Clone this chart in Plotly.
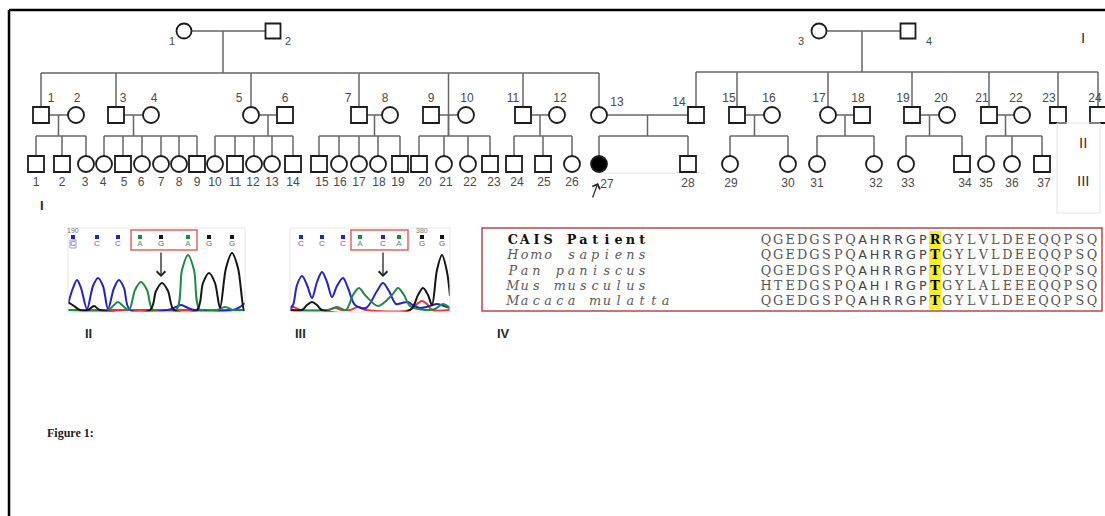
import plotly.graph_objects as go

W, H = 1105, 516

# ======================= Pedigree data =======================
GEN_Y = {1: 31, 2: 115, 3: 164}
SYMBOL_SIZE = {1: 15, 2: 16, 3: 16}
SIB3_Y = 136

gen1_ids = ["1", "2", "3", "4"]
gen1_sex = ["F", "M", "F", "M"]
gen1_x = [184, 273, 819, 908]
gen1_lab_x = [172, 288, 801, 929]
gen1_lab_y = [42, 42, 42, 42]

gen2_ids = [str(i) for i in range(1, 25)]
gen2_sex = list("MFMFFMMFMFMFFMMFFMMFMFMM")
gen2_x = [41, 76, 116, 151, 251, 285, 359, 390, 431, 466, 523, 557, 599, 696,
          737, 772, 828, 862, 912, 947, 989, 1022, 1058, 1098]
gen2_lab_x = [51, 77, 123, 154, 239, 285, 348, 385, 431, 467, 513, 560, 617, 679,
              729, 769, 819, 858, 903, 941, 982, 1016, 1049, 1095]
gen2_lab_y = [99] * 12 + [103, 103] + [99] * 10

gen3_ids = [str(i) for i in range(1, 38)]
gen3_sex = list("MMFFMFFFMFMFFMMFFFMMFFMMMFFMFFFFFMFFM")
gen3_x = [36, 62, 86, 104, 123, 142, 161, 179, 197, 215, 235, 254, 272, 293,
          319, 339, 359, 378, 400, 419, 444, 468, 490, 514, 543, 572, 599, 688,
          730, 788, 817, 874, 906, 962, 986, 1012, 1042]
gen3_lab_x = [36, 62, 85, 103, 124, 141, 161, 179, 197, 215, 235, 253, 272, 293,
              322, 340, 359, 379, 398, 425, 446, 470, 494, 517, 544, 572, 607, 688,
              731, 788, 817, 876, 908, 965, 986, 1012, 1044]
gen3_lab_y = [183] * 26 + [185] + [184] * 10
affected = {"27"}
proband = "27"

gen1_families = [
    dict(parents=("1", "2"), descent_x=223, sib_y=73,
         children=["1", "3", "5", "7", "9+10", "11", "13"]),
    dict(parents=("3", "4"), descent_x=862, sib_y=72,
         children=["14", "15", "17", "19", "21", "23", "24"]),
]
gen2_families = [
    (("1", "2"), ["1", "2", "3"]),
    (("3", "4"), ["4", "5", "6", "7", "8", "9"]),
    (("5", "6"), ["10", "11", "12", "13", "14"]),
    (("7", "8"), ["15", "16", "17", "18", "19"]),
    (("9", "10"), ["20", "21", "22", "23"]),
    (("11", "12"), ["24", "25", "26"]),
    (("13", "14"), ["27", "28"]),
    (("15", "16"), ["29", "30"]),
    (("17", "18"), ["31", "32"]),
    (("19", "20"), ["33", "34"]),
    (("21", "22"), ["35", "36", "37"]),
]

gen_roman = ["I", "II", "III"]
panel_labels = ["I", "II", "III", "IV"]

# ======================= Chromatogram data =======================
# panel II (scan units, signal intensity)
chrom2_bases = ["C", "C", "C", "A", "G", "A", "G", "G"]
chrom2_base_pos = [5, 29, 50, 72, 93, 120, 141, 164]
chrom2_blue_x = [0, 5, 9, 13, 19, 25, 30, 35, 40, 46, 51, 56, 62, 100, 108, 113, 118, 126, 165, 172, 177]
chrom2_blue_y = [8, 24, 32, 24, 3, 26, 34, 26, 3, 24, 32, 24, 2, 2, 5, 7, 5, 2, 2, 5, 9]
chrom2_green_x = [0, 40, 46, 50, 55, 61, 67, 73, 79, 85, 108, 114, 120, 126, 132, 149, 157, 165, 177]
chrom2_green_y = [2, 2, 7, 10, 6, 2, 22, 30, 22, 2, 2, 42, 57, 42, 2, 2, 5, 2, 2]
chrom2_black_x = [0, 6, 12, 20, 26, 32, 82, 88, 94, 100, 106, 129, 135, 141, 147, 152, 158, 164, 170, 176, 177]
chrom2_black_y = [10, 6, 2, 2, 6, 2, 2, 21, 29, 21, 2, 2, 29, 39, 29, 4, 44, 59, 44, 2, 2]
chrom2_red_x = [0, 177]
chrom2_red_y = [2, 2]

# panel III
chrom3_bases = ["C", "C", "C", "A", "C", "A", "G", "G"]
chrom3_base_pos = [11, 32, 53, 70, 93, 109, 132, 152]
chrom3_blue_x = [0, 3, 7, 12, 17, 22, 27, 32, 37, 42, 47, 53, 58, 65, 76, 87, 93, 99, 106,
                 112, 118, 124, 130, 140, 147, 154, 160]
chrom3_blue_y = [4, 7, 27, 36, 27, 14, 30, 40, 30, 15, 26, 34, 24, 7, 4, 21, 29, 21, 8,
                 9, 10, 6, 4, 6, 8, 6, 4]
chrom3_green_x = [0, 38, 47, 56, 63, 69, 75, 88, 102, 108, 114, 120, 135, 145, 153, 160]
chrom3_green_y = [2, 2, 5, 2, 17, 24, 17, 6, 17, 24, 17, 6, 2, 3, 8, 4]
chrom3_black_x = [0, 12, 17, 22, 27, 32, 120, 128, 133, 138, 142, 147, 152, 157, 160]
chrom3_black_y = [2, 2, 7, 10, 7, 2, 2, 17, 24, 17, 7, 42, 57, 40, 16]
chrom3_red_x = [0, 3, 10, 38, 45, 52, 60, 68, 76, 120, 127, 132, 137, 142, 160]
chrom3_red_y = [2, 5, 2, 2, 4, 2, 2, 5, 2, 2, 8, 11, 8, 2, 2]

chrom_titles = ["R", "T"]
chrom_numbers = ["190", "380"]
chrom_number_base = [0, 6]

# ======================= Alignment data =======================
align_names = ["CAIS Patient", "Homo sapiens", "Pan paniscus", "Mus musculus", "Macaca mulatta"]
align_seqs = [
    "QGEDGSPQAHRRGPRGYLVLDEEQQPSQ",
    "QGEDGSPQAHRRGPTGYLVLDEEQQPSQ",
    "QGEDGSPQAHRRGPTGYLVLDEEQQPSQ",
    "HTEDGSPQAHIRGPTGYLALEEEQQPSQ",
    "QGEDGSPQAHRRGPTGYLVLDEEQQPSQ",
]
mut_col = 14
sans_cols = range(8, 14)

caption = "Figure 1:"

# ======================= Styles =======================
LINE_COL = "#666666"
SYM_COL = "#1c1c1c"
LAB_COL = "#4a4a4a"
CH_COL = {"blue": "#2323c8", "green": "#1f8a40", "black": "#151515", "red": "#e03c3c"}
BASE_CH = {"C": "blue", "A": "green", "G": "black", "T": "red"}
LETTER_COL = {"blue": "#5555d8", "green": "#47a064", "black": "#666666", "red": "#e06060"}
ALN_SIZE = 12.8

fig = go.Figure()

# ---------------- pedigree lines ----------------
g1 = dict(zip(gen1_ids, gen1_x))
g2 = dict(zip(gen2_ids, gen2_x))
g3 = dict(zip(gen3_ids, gen3_x))
lx, ly = [], []


def seg(x0, y0, x1, y1):
    lx.extend([x0, x1, None])
    ly.extend([y0, y1, None])


for fam in gen1_families:
    a, b = fam["parents"]
    seg(g1[a], GEN_Y[1], g1[b], GEN_Y[1])
    dx = fam["descent_x"]
    seg(dx, GEN_Y[1], dx, fam["sib_y"])
    xs = []
    for c in fam["children"]:
        if "+" in c:
            p, q = c.split("+")
            cx = (g2[p] + g2[q]) / 2
            seg(cx, fam["sib_y"], cx, SIB3_Y)
        else:
            cx = g2[c]
            seg(cx, fam["sib_y"], cx, GEN_Y[2])
        xs.append(cx)
    seg(min(xs), fam["sib_y"], max(xs), fam["sib_y"])

for (a, b), kids in gen2_families:
    seg(g2[a], GEN_Y[2], g2[b], GEN_Y[2])
    mx = (g2[a] + g2[b]) / 2
    seg(mx, GEN_Y[2], mx, SIB3_Y)
    xs = [g3[k] for k in kids]
    seg(min(xs + [mx]), SIB3_Y, max(xs + [mx]), SIB3_Y)
    for x in xs:
        seg(x, SIB3_Y, x, GEN_Y[3])

# faint helper line under 27-28
fig.add_trace(go.Scatter(x=[g3["27"], g3["28"] + 17], y=[GEN_Y[3] + 9, GEN_Y[3] + 9], mode="lines",
                         line=dict(color="#e2e2e2", width=1), hoverinfo="skip", showlegend=False))
fig.add_trace(go.Scatter(x=lx, y=ly, mode="lines", line=dict(color=LINE_COL, width=1.5),
                         hoverinfo="skip", showlegend=False))

# ---------------- pedigree symbols & labels ----------------
for gen, ids, sex, xs, labx, laby, fs in [
    (1, gen1_ids, gen1_sex, gen1_x, gen1_lab_x, gen1_lab_y, 11),
    (2, gen2_ids, gen2_sex, gen2_x, gen2_lab_x, gen2_lab_y, 12),
    (3, gen3_ids, gen3_sex, gen3_x, gen3_lab_x, gen3_lab_y, 12),
]:
    fig.add_trace(go.Scatter(
        x=xs, y=[GEN_Y[gen]] * len(xs), mode="markers",
        marker=dict(symbol=["square" if s == "M" else "circle" for s in sex],
                    size=SYMBOL_SIZE[gen],
                    color=["#000000" if (gen == 3 and i in affected) else "white" for i in ids],
                    line=dict(color=SYM_COL, width=1.8)),
        hoverinfo="skip", showlegend=False))
    fig.add_trace(go.Scatter(
        x=labx, y=laby, mode="text", text=ids,
        textfont=dict(family="Liberation Sans", size=fs, color=LAB_COL),
        hoverinfo="skip", showlegend=False))

annotations = []
# proband arrow
annotations.append(dict(x=g3[proband] - 1, y=GEN_Y[3] + 19, ax=g3[proband] - 7, ay=GEN_Y[3] + 35,
                        xref="x", yref="y", axref="x", ayref="y", showarrow=True,
                        arrowhead=4, arrowsize=1.3, arrowwidth=1.2, arrowcolor="#222", text=""))

# generation roman numerals (right side)
for txt, yy in zip(gen_roman, [37, 142, 180]):
    annotations.append(dict(x=1083, y=yy, xref="x", yref="y", text=txt, showarrow=False,
                            font=dict(family="Liberation Sans", size=15, color="#333")))
# panel labels
for txt, (xx, yy) in zip(panel_labels, [(42, 205), (88, 333), (300, 333), (503, 333)]):
    annotations.append(dict(x=xx, y=yy, xref="x", yref="y", text=f"<b>{txt}</b>", showarrow=False,
                            font=dict(family="Liberation Sans", size=13, color="#2a2a2a")))

# ---------------- chromatograms ----------------
panels = [
    dict(ax="2", bases=chrom2_bases, pos=chrom2_base_pos,
         ch=[("red", chrom2_red_x, chrom2_red_y), ("blue", chrom2_blue_x, chrom2_blue_y),
             ("green", chrom2_green_x, chrom2_green_y), ("black", chrom2_black_x, chrom2_black_y)]),
    dict(ax="3", bases=chrom3_bases, pos=chrom3_base_pos,
         ch=[("red", chrom3_red_x, chrom3_red_y), ("blue", chrom3_blue_x, chrom3_blue_y),
             ("green", chrom3_green_x, chrom3_green_y), ("black", chrom3_black_x, chrom3_black_y)]),
]
shapes = []
for k, p in enumerate(panels):
    xa, ya = "x" + p["ax"], "y" + p["ax"]
    for cname, cx, cy in p["ch"]:
        fig.add_trace(go.Scatter(x=cx, y=cy, xaxis=xa, yaxis=ya, mode="lines",
                                 line=dict(color=CH_COL[cname], width=2, shape="spline", smoothing=0.9),
                                 hoverinfo="skip", showlegend=False, cliponaxis=True))
    chs = [BASE_CH[b] for b in p["bases"]]
    fig.add_trace(go.Scatter(x=p["pos"], y=[75] * len(p["pos"]), xaxis=xa, yaxis=ya, mode="markers",
                             marker=dict(symbol="square", size=4, color=[CH_COL[c] for c in chs]),
                             hoverinfo="skip", showlegend=False, cliponaxis=False))
    fig.add_trace(go.Scatter(x=p["pos"], y=[68] * len(p["pos"]), xaxis=xa, yaxis=ya, mode="text",
                             text=p["bases"],
                             textfont=dict(family="Liberation Sans", size=8,
                                           color=[LETTER_COL[c] for c in chs]),
                             hoverinfo="skip", showlegend=False, cliponaxis=False))
    # red box around the codon
    shapes.append(dict(type="rect", xref=xa, yref=ya, x0=p["pos"][3] - 9, x1=p["pos"][5] + 9,
                       y0=62, y1=82, line=dict(color="#e06464", width=1.5)))
    # panel frame
    shapes.append(dict(type="rect", xref=xa + " domain", yref=ya + " domain", x0=0, x1=1, y0=0, y1=1,
                       line=dict(color="#e6e6e6", width=1)))
    # arrow
    annotations.append(dict(x=p["pos"][4], y=35, ax=p["pos"][4], ay=61, xref=xa, yref=ya,
                            axref=xa, ayref=ya, showarrow=True, arrowhead=4, arrowsize=1.3,
                            arrowwidth=1.3, arrowcolor="#222", text=""))
    # title letter
    annotations.append(dict(x=p["pos"][4], y=91, xref=xa, yref=ya, text=chrom_titles[k],
                            showarrow=False, font=dict(family="Liberation Sans", size=10, color="#333")))
    annotations.append(dict(x=p["pos"][chrom_number_base[k]], y=82, xref=xa, yref=ya,
                            text=chrom_numbers[k], showarrow=False,
                            font=dict(family="Liberation Sans", size=7, color="#777")))
# boxed first base in panel II
shapes.append(dict(type="rect", xref="x2", yref="y2", x0=chrom2_base_pos[0] - 3, x1=chrom2_base_pos[0] + 3,
                   y0=64, y1=72, line=dict(color="#8888bb", width=0.8)))

# ---------------- alignment ----------------
ROW_Y0, ROW_DY = 241, 15.2
NAME_X0, NAME_P = 512.9, 11.75
SEQ_X0, SEQ_P = 766.0, 12.07

nx, ny, nt, nc = [], [], [], []
for r, name in enumerate(align_names):
    for i, ch in enumerate(name):
        if ch == " ":
            continue
        nx.append(NAME_X0 + i * NAME_P)
        ny.append(ROW_Y0 + r * ROW_DY)
        nt.append(f"<b>{ch}</b>" if r == 0 else f"<i>{ch}</i>")
        nc.append("#111111" if r == 0 else "#5a5a5a")
fig.add_trace(go.Scatter(x=nx, y=ny, text=nt, mode="text",
                         textfont=dict(family="DejaVu Serif", size=ALN_SIZE, color=nc),
                         hoverinfo="skip", showlegend=False))

groups = {"mono": ([], [], []), "sans": ([], [], []), "mut": ([], [], [])}
for r, seq in enumerate(align_seqs):
    for i, ch in enumerate(seq):
        key = "mut" if i == mut_col else ("sans" if i in sans_cols else "mono")
        gx, gy, gt = groups[key]
        gx.append(SEQ_X0 + i * SEQ_P)
        gy.append(ROW_Y0 + r * ROW_DY)
        gt.append(f"<b>{ch}</b>" if key == "mut" else ch)
fonts = {"mono": dict(family="DejaVu Serif", size=ALN_SIZE, color="#555555"),
         "sans": dict(family="DejaVu Sans", size=ALN_SIZE, color="#444444"),
         "mut": dict(family="DejaVu Serif", size=ALN_SIZE, color="#000000")}
for key, (gx, gy, gt) in groups.items():
    fig.add_trace(go.Scatter(x=gx, y=gy, text=gt, mode="text", textfont=fonts[key],
                             hoverinfo="skip", showlegend=False))

# yellow highlight column
hx0 = SEQ_X0 - SEQ_P / 2 + mut_col * SEQ_P
shapes.append(dict(type="rect", xref="x", yref="y", x0=hx0, x1=hx0 + SEQ_P, y0=231, y1=309,
                   fillcolor="#f5f01e", line=dict(width=0), layer="below"))
# alignment box
shapes.append(dict(type="rect", xref="x", yref="y", x0=482, x1=1102, y0=228, y1=311,
                   line=dict(color="#b8474a", width=1.5)))

# ---------------- frame & faint boxes ----------------
shapes.append(dict(type="line", xref="x", yref="y", x0=9, x1=1105, y0=10, y1=10,
                   line=dict(color="#000", width=2.5)))
shapes.append(dict(type="line", xref="x", yref="y", x0=9, x1=9, y0=10, y1=516,
                   line=dict(color="#000", width=2.5)))
shapes.append(dict(type="rect", xref="x", yref="y", x0=1057, x1=1100, y0=123, y1=213,
                   line=dict(color="#e4e4e4", width=1)))

annotations.append(dict(x=45, y=433, xref="x", yref="y", xanchor="left", text=f"<b>{caption}</b>",
                        showarrow=False, font=dict(family="Liberation Serif", size=12, color="#222")))

fig.update_layout(
    width=W, height=H, margin=dict(l=0, r=0, t=0, b=0),
    paper_bgcolor="white", plot_bgcolor="rgba(0,0,0,0)",
    showlegend=False, hovermode=False,
    xaxis=dict(domain=[0, 1], range=[0, W], visible=False, fixedrange=True),
    yaxis=dict(domain=[0, 1], range=[H, 0], visible=False, fixedrange=True),
    xaxis2=dict(domain=[68 / W, 245 / W], range=[0, 177], visible=False, anchor="y2"),
    yaxis2=dict(domain=[1 - 312 / H, 1 - 228 / H], range=[0, 84], visible=False, anchor="x2"),
    xaxis3=dict(domain=[290 / W, 450 / W], range=[0, 160], visible=False, anchor="y3"),
    yaxis3=dict(domain=[1 - 312 / H, 1 - 228 / H], range=[0, 84], visible=False, anchor="x3"),
    shapes=shapes, annotations=annotations,
)

fig.write_html("out.html", config={"displayModeBar": False},
               post_script="document.body.style.margin='0';document.body.style.overflow='hidden';")
